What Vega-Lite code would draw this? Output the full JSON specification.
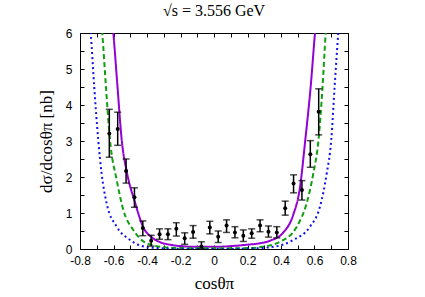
{
  "$schema": "https://vega.github.io/schema/vega-lite/v6.json",
  "width": 268,
  "height": 216,
  "autosize": "none",
  "padding": {"left": 80, "top": 33, "right": 77, "bottom": 48},
  "background": "white",
  "config": {
    "view": {"stroke": "black", "strokeWidth": 1},
    "axis": {"grid": false, "domain": false, "tickColor": "black", "tickWidth": 1, "labelColor": "black", "titleColor": "black", "labelOverlap": false, "labelFlush": false}
  },
  "title": {"text": "√s = 3.556 GeV", "font": "Liberation Serif", "fontSize": 16, "fontWeight": "normal", "offset": 8, "color": "black"},
  "datasets": {
    "pts": [
      {"c": -0.625, "y": 3.21, "lo": 2.55, "hi": 3.88},
      {"c": -0.575, "y": 3.33, "lo": 2.88, "hi": 3.80},
      {"c": -0.525, "y": 2.17, "lo": 1.83, "hi": 2.50},
      {"c": -0.475, "y": 1.44, "lo": 1.16, "hi": 1.70},
      {"c": -0.425, "y": 0.58, "lo": 0.37, "hi": 0.78},
      {"c": -0.375, "y": 0.23, "lo": 0.08, "hi": 0.38},
      {"c": -0.325, "y": 0.41, "lo": 0.27, "hi": 0.56},
      {"c": -0.275, "y": 0.41, "lo": 0.26, "hi": 0.56},
      {"c": -0.225, "y": 0.56, "lo": 0.36, "hi": 0.73},
      {"c": -0.175, "y": 0.30, "lo": 0.13, "hi": 0.45},
      {"c": -0.125, "y": 0.47, "lo": 0.30, "hi": 0.65},
      {"c": -0.075, "y": 0.07, "lo": 0.0, "hi": 0.20},
      {"c": -0.025, "y": 0.60, "lo": 0.42, "hi": 0.77},
      {"c": 0.025, "y": 0.34, "lo": 0.18, "hi": 0.50},
      {"c": 0.075, "y": 0.65, "lo": 0.46, "hi": 0.81},
      {"c": 0.125, "y": 0.46, "lo": 0.31, "hi": 0.62},
      {"c": 0.175, "y": 0.37, "lo": 0.21, "hi": 0.53},
      {"c": 0.225, "y": 0.44, "lo": 0.30, "hi": 0.56},
      {"c": 0.275, "y": 0.65, "lo": 0.48, "hi": 0.81},
      {"c": 0.325, "y": 0.48, "lo": 0.33, "hi": 0.64},
      {"c": 0.375, "y": 0.46, "lo": 0.31, "hi": 0.62},
      {"c": 0.425, "y": 1.13, "lo": 0.94, "hi": 1.33},
      {"c": 0.475, "y": 1.82, "lo": 1.56, "hi": 2.06},
      {"c": 0.525, "y": 1.64, "lo": 1.36, "hi": 1.90},
      {"c": 0.575, "y": 2.63, "lo": 2.27, "hi": 3.01},
      {"c": 0.625, "y": 3.81, "lo": 3.17, "hi": 4.45}
    ],
    "curves": [
      {"m": "A", "c": -0.607, "y": 6.3},
      {"m": "A", "c": -0.601, "y": 6.0},
      {"m": "A", "c": -0.576, "y": 4.5},
      {"m": "A", "c": -0.551, "y": 3.03},
      {"m": "A", "c": -0.521, "y": 2.15},
      {"m": "A", "c": -0.472, "y": 1.30},
      {"m": "A", "c": -0.422, "y": 0.60},
      {"m": "A", "c": -0.37, "y": 0.32},
      {"m": "A", "c": -0.322, "y": 0.19},
      {"m": "A", "c": -0.25, "y": 0.11},
      {"m": "A", "c": -0.2, "y": 0.08},
      {"m": "A", "c": -0.1, "y": 0.06},
      {"m": "A", "c": 0.0, "y": 0.06},
      {"m": "A", "c": 0.1, "y": 0.08},
      {"m": "A", "c": 0.2, "y": 0.12},
      {"m": "A", "c": 0.275, "y": 0.16},
      {"m": "A", "c": 0.334, "y": 0.23},
      {"m": "A", "c": 0.414, "y": 0.46},
      {"m": "A", "c": 0.473, "y": 0.95},
      {"m": "A", "c": 0.513, "y": 1.70},
      {"m": "A", "c": 0.545, "y": 3.03},
      {"m": "A", "c": 0.577, "y": 4.5},
      {"m": "A", "c": 0.603, "y": 6.0},
      {"m": "A", "c": 0.609, "y": 6.3},
      {"m": "B", "c": -0.672, "y": 6.3},
      {"m": "B", "c": -0.667, "y": 6.0},
      {"m": "B", "c": -0.645, "y": 4.5},
      {"m": "B", "c": -0.621, "y": 3.03},
      {"m": "B", "c": -0.581, "y": 1.92},
      {"m": "B", "c": -0.541, "y": 1.08},
      {"m": "B", "c": -0.482, "y": 0.53},
      {"m": "B", "c": -0.402, "y": 0.16},
      {"m": "B", "c": -0.3, "y": 0.05},
      {"m": "B", "c": -0.2, "y": 0.025},
      {"m": "B", "c": 0.0, "y": 0.02},
      {"m": "B", "c": 0.2, "y": 0.025},
      {"m": "B", "c": 0.275, "y": 0.05},
      {"m": "B", "c": 0.394, "y": 0.20},
      {"m": "B", "c": 0.494, "y": 0.62},
      {"m": "B", "c": 0.553, "y": 1.27},
      {"m": "B", "c": 0.593, "y": 2.10},
      {"m": "B", "c": 0.624, "y": 3.03},
      {"m": "B", "c": 0.648, "y": 4.5},
      {"m": "B", "c": 0.667, "y": 6.0},
      {"m": "B", "c": 0.672, "y": 6.3},
      {"m": "C", "c": -0.741, "y": 6.3},
      {"m": "C", "c": -0.736, "y": 6.0},
      {"m": "C", "c": -0.715, "y": 4.5},
      {"m": "C", "c": -0.691, "y": 3.03},
      {"m": "C", "c": -0.671, "y": 2.10},
      {"m": "C", "c": -0.641, "y": 1.27},
      {"m": "C", "c": -0.581, "y": 0.62},
      {"m": "C", "c": -0.501, "y": 0.25},
      {"m": "C", "c": -0.382, "y": 0.04},
      {"m": "C", "c": -0.2, "y": 0.005},
      {"m": "C", "c": 0.0, "y": 0.0},
      {"m": "C", "c": 0.2, "y": 0.01},
      {"m": "C", "c": 0.354, "y": 0.06},
      {"m": "C", "c": 0.473, "y": 0.25},
      {"m": "C", "c": 0.573, "y": 0.62},
      {"m": "C", "c": 0.633, "y": 1.18},
      {"m": "C", "c": 0.673, "y": 2.10},
      {"m": "C", "c": 0.700, "y": 3.03},
      {"m": "C", "c": 0.720, "y": 4.5},
      {"m": "C", "c": 0.742, "y": 6.0},
      {"m": "C", "c": 0.747, "y": 6.3}
    ]
  },
  "resolve": {"axis": {"x": "independent", "y": "independent"}},
  "layer": [
    {
      "data": {"name": "curves"},
      "mark": {"type": "line", "clip": true, "strokeWidth": 2, "interpolate": "monotone"},
      "encoding": {
        "x": {"field": "c", "type": "quantitative", "scale": {"domain": [-0.8, 0.8], "nice": false, "zero": false},
          "axis": {"orient": "bottom", "values": [-0.8,-0.7,-0.6,-0.5,-0.4,-0.3,-0.2,-0.1,0,0.1,0.2,0.3,0.4,0.5,0.6,0.7,0.8],
            "tickSize": -4, "labelPadding": 10, "labelFont": "Liberation Sans", "labelFontSize": 12,
            "labelExpr": "abs(round(datum.value*10)) % 2 == 0 ? (abs(datum.value) < 0.001 ? '0' : (datum.value < 0 ? '-' : '') + format(abs(datum.value), '.1f')) : ''",
            "title": "cosθπ", "titleFont": "Liberation Serif", "titleFontSize": 17, "titleFontWeight": "normal",
            "titleX": 134, "titleY": 34, "titleBaseline": "middle", "titleAlign": "center"}},
        "y": {"field": "y", "type": "quantitative", "scale": {"domain": [0, 6], "nice": false},
          "axis": {"orient": "left", "values": [0,0.5,1,1.5,2,2.5,3,3.5,4,4.5,5,5.5,6],
            "tickSize": -4, "labelPadding": 12, "labelFont": "Liberation Sans", "labelFontSize": 12,
            "labelExpr": "round(datum.value*2) % 2 == 0 ? format(datum.value, 'd') : ''",
            "title": "dσ/dcosθπ [nb]", "titleFont": "Liberation Serif", "titleFontSize": 17, "titleFontWeight": "normal",
            "titleX": -34, "titleY": 108, "titleAngle": -90, "titleBaseline": "middle", "titleAlign": "center"}},
        "color": {"field": "m", "type": "nominal", "legend": null,
          "scale": {"domain": ["A", "B", "C"], "range": ["#9400d3", "#10a010", "#1010ee"]}},
        "strokeDash": {"field": "m", "type": "nominal", "legend": null,
          "scale": {"domain": ["A", "B", "C"], "range": [[1, 0], [5, 3], [2, 3]]}}
      }
    },
    {
      "data": {"name": "pts"},
      "mark": {"type": "rule", "color": "black", "strokeWidth": 1.5},
      "encoding": {
        "x": {"field": "c", "type": "quantitative", "axis": {"orient": "top", "values": [-0.8,-0.7,-0.6,-0.5,-0.4,-0.3,-0.2,-0.1,0,0.1,0.2,0.3,0.4,0.5,0.6,0.7,0.8], "tickSize": -4, "labels": false, "title": null}},
        "y": {"field": "lo", "type": "quantitative", "axis": {"orient": "right", "values": [0,0.5,1,1.5,2,2.5,3,3.5,4,4.5,5,5.5,6], "tickSize": -4, "labels": false, "title": null}},
        "y2": {"field": "hi"}
      }
    },
    {
      "data": {"name": "pts"},
      "mark": {"type": "tick", "orient": "horizontal", "color": "black", "thickness": 1.5, "size": 7},
      "encoding": {
        "x": {"field": "c", "type": "quantitative", "axis": null},
        "y": {"field": "lo", "type": "quantitative", "axis": null}
      }
    },
    {
      "data": {"name": "pts"},
      "mark": {"type": "tick", "orient": "horizontal", "color": "black", "thickness": 1.5, "size": 7},
      "encoding": {
        "x": {"field": "c", "type": "quantitative", "axis": null},
        "y": {"field": "hi", "type": "quantitative", "axis": null}
      }
    },
    {
      "data": {"name": "pts"},
      "mark": {"type": "circle", "color": "black", "opacity": 1, "size": 16},
      "encoding": {
        "x": {"field": "c", "type": "quantitative", "axis": null},
        "y": {"field": "y", "type": "quantitative", "axis": null}
      }
    }
  ]
}
